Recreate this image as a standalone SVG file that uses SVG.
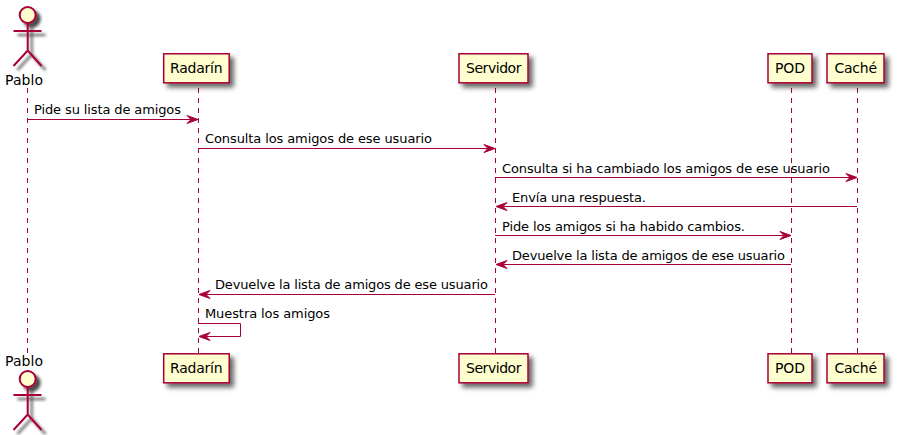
<svg xmlns="http://www.w3.org/2000/svg" width="897" height="435" viewBox="0 0 897 435">
<style>
text{font-family:"DejaVu Sans",sans-serif;fill:#000}
.n{font-size:14px}
.m{font-size:13px}
.b{fill:#FEFECE;stroke:#A80036;stroke-width:1.5}
.a{fill:none;stroke:#A80036;stroke-width:2}
.h{fill:#FEFECE;stroke:#A80036;stroke-width:2}
.l{stroke:#A80036;stroke-width:1;stroke-dasharray:5,5;fill:none}
.c{stroke:#A80036;stroke-width:1;fill:none}
.t{fill:#A80036;stroke:#A80036;stroke-width:1}
</style>
<defs>
<filter id="s" x="-30%" y="-30%" width="170%" height="170%">
<feGaussianBlur in="SourceAlpha" stdDeviation="2.4"/>
<feColorMatrix type="matrix" values="0 0 0 0 0 0 0 0 0 0 0 0 0 0 0 0 0 0 0.6 0"/>
<feOffset dx="4" dy="4" result="o"/>
<feMerge><feMergeNode in="o"/><feMergeNode in="SourceGraphic"/></feMerge>
</filter>
<filter id="sa" x="-40%" y="-30%" width="190%" height="170%">
<feGaussianBlur in="SourceAlpha" stdDeviation="1.6"/>
<feColorMatrix type="matrix" values="0 0 0 0 0 0 0 0 0 0 0 0 0 0 0 0 0 0 0.7 0"/>
<feOffset dx="4" dy="4" result="o"/>
<feMerge><feMergeNode in="o"/><feMergeNode in="SourceGraphic"/></feMerge>
</filter>
<polygon id="r" class="t" points="-11,-4 0,0 -11,4 -7,0"/>
<polygon id="f" class="t" points="11,-4 0,0 11,4 7,0"/>
</defs>
<g id="lifelines">
<line class="l" x1="27.5" y1="88" x2="27.5" y2="353"/>
<line class="l" x1="198.5" y1="88" x2="198.5" y2="353"/>
<line class="l" x1="495.5" y1="88" x2="495.5" y2="353"/>
<line class="l" x1="791.5" y1="88" x2="791.5" y2="353"/>
<line class="l" x1="857.5" y1="88" x2="857.5" y2="353"/>
</g>
<g id="connectors">
<g id="c1"><line class="c" x1="28" y1="119.5" x2="193" y2="119.5"/><use href="#r" x="198" y="119.5"/><text class="m" x="34" y="114" textLength="147">Pide su lista de amigos</text></g>
<g id="c2"><line class="c" x1="198" y1="148.5" x2="490" y2="148.5"/><use href="#r" x="495" y="148.5"/><text class="m" x="205" y="143" textLength="227">Consulta los amigos de ese usuario</text></g>
<g id="c3"><line class="c" x1="495" y1="177.5" x2="852" y2="177.5"/><use href="#r" x="857" y="177.5"/><text class="m" x="502" y="173" textLength="328">Consulta si ha cambiado los amigos de ese usuario</text></g>
<g id="c4"><line class="c" x1="501" y1="206.5" x2="857" y2="206.5"/><use href="#f" x="496" y="206.5"/><text class="m" x="512" y="202" textLength="134">Envía una respuesta.</text></g>
<g id="c5"><line class="c" x1="495" y1="235.5" x2="786" y2="235.5"/><use href="#r" x="791" y="235.5"/><text class="m" x="502" y="231" textLength="243">Pide los amigos si ha habido cambios.</text></g>
<g id="c6"><line class="c" x1="501" y1="264.5" x2="791" y2="264.5"/><use href="#f" x="496" y="264.5"/><text class="m" x="512" y="260" textLength="273">Devuelve la lista de amigos de ese usuario</text></g>
<g id="c7"><line class="c" x1="204" y1="294.5" x2="495" y2="294.5"/><use href="#f" x="199" y="294.5"/><text class="m" x="215" y="289" textLength="273">Devuelve la lista de amigos de ese usuario</text></g>
<g id="c8"><polyline class="c" points="198,323.5 240.5,323.5 240.5,336.5 204,336.5"/><use href="#f" x="199" y="336.5"/><text class="m" x="205" y="318" textLength="125">Muestra los amigos</text></g>
</g>
<g id="pablo-top">
<g filter="url(#sa)"><circle class="h" cx="27.7" cy="15" r="8"/><path class="a" d="M27.7 23V50.5M13.5 31H41.5M13.5 66L27.7 50.5L41.5 66"/></g>
<text class="n" x="5" y="85" textLength="38">Pablo</text>
</g>
<g id="pablo-bottom">
<text class="n" x="5" y="366" textLength="38">Pablo</text>
<g filter="url(#sa)"><circle class="h" cx="27.7" cy="379" r="8"/><path class="a" d="M27.7 387V414.5M13.5 395H41.5M13.5 430L27.7 414.5L41.5 430"/></g>
</g>
<g id="radarin-top"><rect class="b" x="163.7" y="53.8" width="65.5" height="29" filter="url(#s)"/><text class="n" x="170" y="73" textLength="52.5">Radarín</text></g>
<g id="servidor-top"><rect class="b" x="459" y="53.8" width="69" height="29" filter="url(#s)"/><text class="n" x="466" y="73" textLength="55.5">Servidor</text></g>
<g id="pod-top"><rect class="b" x="768" y="53.8" width="44" height="29" filter="url(#s)"/><text class="n" x="775" y="73" textLength="30">POD</text></g>
<g id="cache-top"><rect class="b" x="827" y="53.8" width="57" height="29" filter="url(#s)"/><text class="n" x="834.5" y="73" textLength="42.5">Caché</text></g>
<g id="radarin-bottom"><rect class="b" x="163.7" y="353.8" width="65.5" height="29" filter="url(#s)"/><text class="n" x="170" y="373" textLength="52.5">Radarín</text></g>
<g id="servidor-bottom"><rect class="b" x="459" y="353.8" width="69" height="29" filter="url(#s)"/><text class="n" x="466" y="373" textLength="55.5">Servidor</text></g>
<g id="pod-bottom"><rect class="b" x="768" y="353.8" width="44" height="29" filter="url(#s)"/><text class="n" x="775" y="373" textLength="30">POD</text></g>
<g id="cache-bottom"><rect class="b" x="827" y="353.8" width="57" height="29" filter="url(#s)"/><text class="n" x="834.5" y="373" textLength="42.5">Caché</text></g>
</svg>
